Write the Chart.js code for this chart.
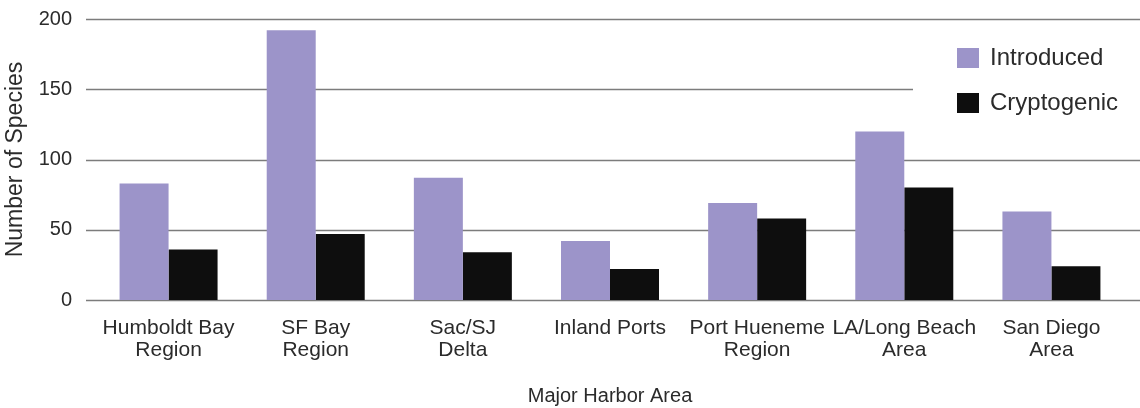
<!DOCTYPE html>
<html>
<head>
<meta charset="utf-8">
<script src="https://cdn.jsdelivr.net/npm/chart.js@4.4.0/dist/chart.umd.min.js"></script>
<style>
  html, body { margin: 0; padding: 0; background: #fff; }
  #wrap { width: 1140px; height: 408px; }
</style>
</head>
<body>
<div id="wrap"><canvas id="harborChart"></canvas></div>
<script>
const harborAreas = [
    ['Humboldt Bay', 'Region'],
    ['SF Bay', 'Region'],
    ['Sac/SJ', 'Delta'],
    'Inland Ports',
    ['Port Hueneme', 'Region'],
    ['LA/Long Beach', 'Area'],
    ['San Diego', 'Area']
];
const introduced = [83, 192, 87, 42, 69, 120, 63];
const cryptogenic = [36, 47, 34, 22, 58, 80, 24];
const yTicks = [0, 50, 100, 150, 200];

const textColor = '#2b2b2b';
Chart.defaults.font.family = "'Liberation Sans', Arial, sans-serif";
Chart.defaults.color = textColor;

// grid lines run a bit past the plot area on both sides, like the original
const gridPlugin = {
    id: 'wideGrid',
    beforeDatasetsDraw(chart) {
        const { ctx, chartArea, scales: { y } } = chart;
        ctx.save();
        ctx.strokeStyle = '#7c7c7c';
        ctx.lineWidth = 1.6;
        yTicks.forEach(v => {
            const py = Math.round(y.getPixelForValue(v)) + 0.5;
            ctx.beginPath();
            ctx.moveTo(chartArea.left - 9, py);
            ctx.lineTo(chart.width, py);
            ctx.stroke();
        });
        ctx.restore();
    }
};

// boxed legend sitting inside the plot, top right
const legendPlugin = {
    id: 'boxLegend',
    beforeDatasetsDraw(chart) {
        const { ctx, chartArea } = chart;
        const x0 = chartArea.right - 212;
        const y0 = chartArea.top + 12;
        ctx.save();
        ctx.fillStyle = '#fff';
        ctx.fillRect(x0, y0, chart.width - x0, 92);
        ctx.font = "24px 'Liberation Sans', Arial, sans-serif";
        ctx.textBaseline = 'middle';
        chart.data.datasets.forEach((ds, i) => {
            const cy = y0 + 27 + i * 45;
            ctx.fillStyle = ds.backgroundColor;
            ctx.fillRect(x0 + 44, cy - 10, 22, 20);
            ctx.fillStyle = textColor;
            ctx.fillText(ds.label, x0 + 77, cy);
        });
        ctx.restore();
    }
};

new Chart(document.getElementById('harborChart'), {
    type: 'bar',
    data: {
        labels: harborAreas,
        datasets: [
            {
                label: 'Introduced',
                data: introduced,
                backgroundColor: '#9c94c9',
                categoryPercentage: 0.666,
                barPercentage: 1.0
            },
            {
                label: 'Cryptogenic',
                data: cryptogenic,
                backgroundColor: '#0e0e0e',
                categoryPercentage: 0.666,
                barPercentage: 1.0
            }
        ]
    },
    options: {
        responsive: true,
        maintainAspectRatio: false,
        animation: false,
        layout: { padding: { top: 19, right: 15, left: 0, bottom: 0 } },
        plugins: {
            legend: { display: false },
            tooltip: { enabled: false }
        },
        scales: {
            x: {
                grid: { display: false, drawTicks: false },
                border: { display: false },
                ticks: {
                    padding: 17,
                    font: { size: 21, lineHeight: 1.05 },
                    maxRotation: 0,
                    autoSkip: false
                },
                title: {
                    display: true,
                    text: 'Major Harbor Area',
                    font: { size: 20 },
                    padding: { top: 0, bottom: 0 }
                },
                afterFit: s => { s.height = 108; }
            },
            y: {
                min: 0,
                max: 200,
                grid: { display: false, drawTicks: true, tickLength: 23 },
                border: { display: false },
                ticks: {
                    stepSize: 50,
                    padding: 0,
                    font: { size: 20 }
                },
                title: {
                    display: true,
                    text: 'Number of Species',
                    font: { size: 23 },
                    padding: { top: 2, bottom: 0 }
                },
                afterFit: s => { s.width = 95; }
            }
        }
    },
    plugins: [gridPlugin, legendPlugin]
});
</script>
</body>
</html>
